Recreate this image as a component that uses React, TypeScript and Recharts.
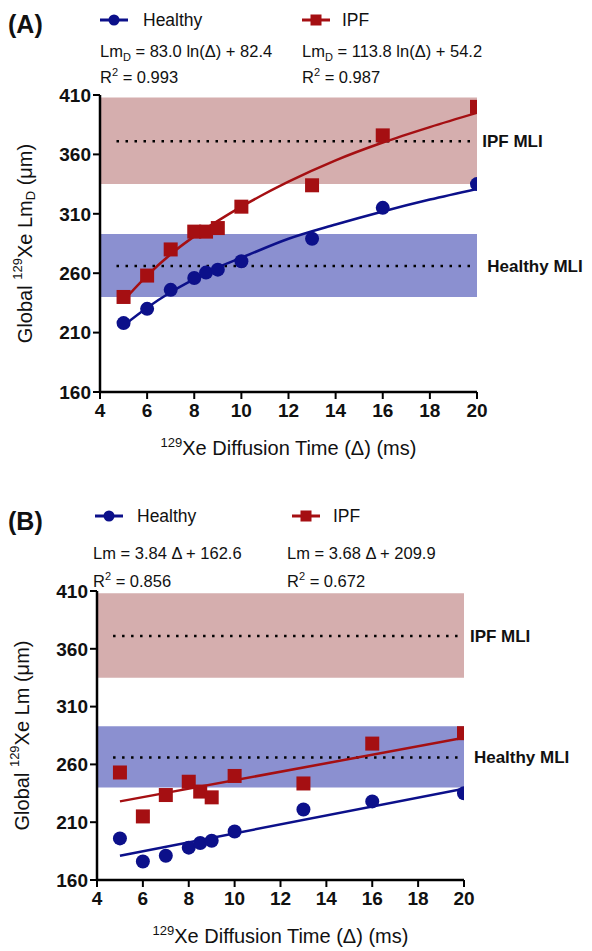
import React from 'react';
import { ComposedChart, Line, Scatter, XAxis, YAxis, ReferenceArea, ReferenceLine } from 'recharts';

// diffusion times (ms)
const delta = [5, 6, 7, 8, 8.5, 9, 10, 13, 16, 20];
const xTicks = [4, 6, 8, 10, 12, 14, 16, 18, 20];
const yTicks = [160, 210, 260, 310, 360, 410];

// panel A: LmD
const healthyLmD = [218, 230, 246, 256, 260.5, 263, 270, 289, 315, 335];
const ipfLmD = [240, 258, 280, 295, 295, 298, 316, 334, 376, 400];
const fitXA = [5, 6, 7, 8, 9, 10, 12, 14, 16, 18, 20];
const healthyFitA = [216, 231, 244, 255, 265, 273, 289, 301, 312, 322, 331];
const ipfFitA = [237, 258, 276, 291, 304, 316, 337, 355, 370, 383, 395];

// panel B: Lm
const healthyLm = [196, 176, 181, 188, 192, 194, 202, 221, 228, 235];
const ipfLm = [253, 215, 233.5, 245, 236.5, 231.5, 250, 243.5, 278, 287];
const fitXB = [5, 20];
const healthyFitB = [181, 239];
const ipfFitB = [228, 283];

// MLI reference bands
const ipfBand = [335, 408];
const healthyBand = [240, 293];
const ipfMLI = 371;
const healthyMLI = 266;
const mliSpan = [4.7, 19.8];

const NAVY = '#0c108a';
const RED = '#a50f12';
const FONT = '"Liberation Sans", Arial, sans-serif';

const pts = (xs: number[], ys: number[]) => xs.map((x, i) => ({ x, y: ys[i] }));

const Dot = (p: any) => <circle cx={p.cx} cy={p.cy} r={7} fill={NAVY} />;
const Sq = (p: any) => <rect x={p.cx - 7} y={p.cy - 7} width={14} height={14} fill={RED} />;

const YLabel = ({ viewBox, cx, sub }: any) => {
  const cy = viewBox ? viewBox.y + viewBox.height / 2 : 240;
  return (
    <text x={cx} y={cy} transform={`rotate(-90 ${cx} ${cy})`} textAnchor="middle" dominantBaseline="central"
      fontFamily={FONT} fontSize={20} fill="#111">
      <tspan>Global </tspan>
      <tspan fontSize={13} dy={-8}>129</tspan>
      <tspan dy={8}>Xe Lm</tspan>
      {sub ? <tspan fontSize={13} dy={5}>{sub}</tspan> : null}
      <tspan dy={sub ? -5 : 0}> (μm)</tspan>
    </text>
  );
};

const XLabel = ({ viewBox }: any) => {
  const cx = viewBox ? viewBox.x + viewBox.width / 2 : 288;
  const y = viewBox ? viewBox.y + 63 : 450;
  return (
    <text x={cx} y={y} textAnchor="middle" fontFamily={FONT} fontSize={20} fill="#111">
      <tspan fontSize={13} dy={-8}>129</tspan>
      <tspan dy={8}>Xe Diffusion Time (Δ) (ms)</tspan>
    </text>
  );
};

const LegendMark = ({ square }: { square?: boolean }) => (
  <svg width={28} height={14} style={{ display: 'block' }}>
    <line x1={0} y1={7} x2={28} y2={7} stroke={square ? RED : NAVY} strokeWidth={3} />
    {square ? <rect x={8.5} y={1.5} width={11} height={11} fill={RED} /> : <circle cx={14} cy={7} r={5.5} fill={NAVY} />}
  </svg>
);

const abs = (left: number, top: number, size: number, extra: React.CSSProperties = {}): React.CSSProperties => ({
  position: 'absolute', left, top, fontSize: size, lineHeight: 1, fontFamily: FONT, color: '#111', whiteSpace: 'nowrap', ...extra,
});

interface PanelProps {
  top: number;
  height: number;
  marginTop: number;
  marginRight: number;
  yWidth: number;
  xHeight: number;
  healthy: number[];
  ipf: number[];
  fitX: number[];
  healthyFit: number[];
  ipfFit: number[];
  curved: boolean;
  ylabelX: number;
  sub?: string;
  labelOffsets: [number, number];
}

const Panel = (p: PanelProps) => (
  <div style={{ position: 'absolute', left: 0, top: p.top }}>
    <ComposedChart width={592} height={p.height} margin={{ top: p.marginTop, right: p.marginRight, left: 0, bottom: 0 }}>
      <XAxis type="number" dataKey="x" domain={[4, 20]} ticks={xTicks} allowDataOverflow
        axisLine={{ stroke: '#000', strokeWidth: 2.5 }} tickLine={{ stroke: '#000', strokeWidth: 2 }} tickSize={7} tickMargin={5}
        tick={{ fill: '#111', fontSize: 19, fontWeight: 700, fontFamily: FONT }} height={p.xHeight} label={<XLabel />} />
      <YAxis type="number" dataKey="y" domain={[160, 410]} ticks={yTicks} allowDataOverflow
        axisLine={{ stroke: '#000', strokeWidth: 2.5 }} tickLine={{ stroke: '#000', strokeWidth: 2 }} tickSize={7} tickMargin={2}
        tick={{ fill: '#111', fontSize: 19, fontWeight: 700, fontFamily: FONT }} width={p.yWidth}
        label={<YLabel cx={p.ylabelX} sub={p.sub} />} />
      <ReferenceArea x1={4} x2={20} y1={ipfBand[0]} y2={ipfBand[1]} fill="#d5aeae" fillOpacity={1} stroke="none" />
      <ReferenceArea x1={4} x2={20} y1={healthyBand[0]} y2={healthyBand[1]} fill="#8b90d0" fillOpacity={1} stroke="none" />
      <ReferenceLine segment={[{ x: mliSpan[0], y: ipfMLI }, { x: mliSpan[1], y: ipfMLI }]} stroke="#000" strokeWidth={2.5}
        strokeDasharray="2.5 6.5"
        label={{ value: 'IPF MLI', position: 'right', offset: p.labelOffsets[0], fill: '#111', fontSize: 17, fontWeight: 700, fontFamily: FONT }} />
      <ReferenceLine segment={[{ x: mliSpan[0], y: healthyMLI }, { x: mliSpan[1], y: healthyMLI }]} stroke="#000" strokeWidth={2.5}
        strokeDasharray="2.5 6.5"
        label={{ value: 'Healthy MLI', position: 'right', offset: p.labelOffsets[1], fill: '#111', fontSize: 17, fontWeight: 700, fontFamily: FONT }} />
      <Line data={pts(p.fitX, p.healthyFit)} dataKey="y" type={p.curved ? 'monotone' : 'linear'} stroke={NAVY} strokeWidth={2.5} dot={false} isAnimationActive={false} />
      <Line data={pts(p.fitX, p.ipfFit)} dataKey="y" type={p.curved ? 'monotone' : 'linear'} stroke={RED} strokeWidth={2.5} dot={false} isAnimationActive={false} />
      <Scatter data={pts(delta, p.healthy)} dataKey="y" shape={Dot} isAnimationActive={false} />
      <Scatter data={pts(delta, p.ipf)} dataKey="y" shape={Sq} isAnimationActive={false} />
    </ComposedChart>
  </div>
);

export default function App() {
  return (
    <div style={{ position: 'absolute', left: 0, top: 0, width: 592, height: 951, background: '#fff', overflow: 'hidden' }}>
      {/* panel A header */}
      <div style={abs(8, 12, 25, { fontWeight: 700 })}>(A)</div>
      <div style={{ position: 'absolute', left: 100, top: 13 }}><LegendMark /></div>
      <div style={abs(143, 11.5, 17.5)}>Healthy</div>
      <div style={{ position: 'absolute', left: 302, top: 13 }}><LegendMark square /></div>
      <div style={abs(342, 11.5, 17.5)}>IPF</div>
      <div style={abs(100, 43, 16.5)}>Lm<sub style={{ fontSize: 11 }}>D</sub> = 83.0 ln(Δ) + 82.4</div>
      <div style={abs(100, 67, 16.5)}>R<sup style={{ fontSize: 11 }}>2</sup> = 0.993</div>
      <div style={abs(302, 43, 16.5)}>Lm<sub style={{ fontSize: 11 }}>D</sub> = 113.8 ln(Δ) + 54.2</div>
      <div style={abs(302, 67, 16.5)}>R<sup style={{ fontSize: 11 }}>2</sup> = 0.987</div>

      <Panel top={0} height={470} marginTop={95} marginRight={115} yWidth={100} xHeight={78}
        healthy={healthyLmD} ipf={ipfLmD} fitX={fitXA} healthyFit={healthyFitA} ipfFit={ipfFitA}
        curved ylabelX={25} sub="D" labelOffsets={[10, 15]} />

      {/* panel B header */}
      <div style={abs(8, 509, 25, { fontWeight: 700 })}>(B)</div>
      <div style={{ position: 'absolute', left: 95, top: 509 }}><LegendMark /></div>
      <div style={abs(137, 507.5, 17.5)}>Healthy</div>
      <div style={{ position: 'absolute', left: 292, top: 509 }}><LegendMark square /></div>
      <div style={abs(333, 507.5, 17.5)}>IPF</div>
      <div style={abs(93, 544.5, 16.5)}>Lm = 3.84 Δ + 162.6</div>
      <div style={abs(93, 570.5, 16.5)}>R<sup style={{ fontSize: 11 }}>2</sup> = 0.856</div>
      <div style={abs(287, 544.5, 16.5)}>Lm = 3.68 Δ + 209.9</div>
      <div style={abs(287, 570.5, 16.5)}>R<sup style={{ fontSize: 11 }}>2</sup> = 0.672</div>

      <Panel top={480} height={471} marginTop={111} marginRight={128} yWidth={97} xHeight={71}
        healthy={healthyLm} ipf={ipfLm} fitX={fitXB} healthyFit={healthyFitB} ipfFit={ipfFitB}
        curved={false} ylabelX={22} labelOffsets={[10.5, 14.5]} />
    </div>
  );
}
